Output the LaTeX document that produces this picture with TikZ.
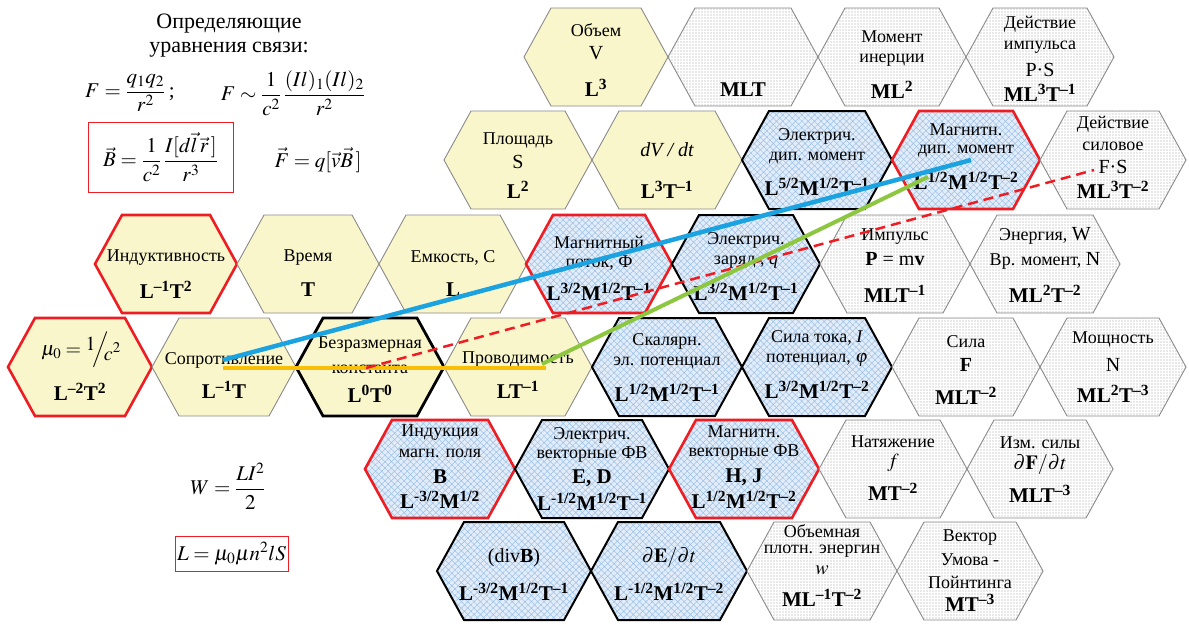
\documentclass[tikz,border=0pt]{standalone}
\usepackage{mathptmx}
\usepackage[no-math]{fontspec}
\setmainfont{Liberation Serif}
\usetikzlibrary{patterns.meta}
\definecolor{yfill}{HTML}{FAF6CB}
\definecolor{bfill}{HTML}{E3EDF9}
\definecolor{bline}{HTML}{9CC0E6}
\definecolor{gdot}{HTML}{A0A0A0}
\definecolor{hgray}{HTML}{8A8A8A}
\definecolor{hred}{HTML}{EE1D23}
\definecolor{lblue}{HTML}{1AA3E0}
\definecolor{lgreen}{HTML}{8DC63F}
\definecolor{lgold}{HTML}{F9BE08}
\newcommand\ssp[1]{\textsuperscript{#1}}
% style, name, x, y, half width
\newcommand\hx[5]{\draw[#1] ({#3-#5},{#4}) -- ({#3-#5+27},{#4-49}) -- ({#3+#5-27},{#4-49}) -- ({#3+#5},{#4}) -- ({#3+#5-27},{#4+49}) -- ({#3-#5+27},{#4+49}) -- cycle; \coordinate (#2) at (#3,#4);}
\tikzset{
 yh/.style={fill=yfill, draw=hgray, line width=0.9pt},
 yhr/.style={fill=yfill, draw=hred, line width=2.6pt},
 yhk/.style={fill=yfill, draw=black, line width=2.8pt},
 bh/.style={preaction={fill=bfill}, pattern={Hatch[angle=45,distance=4.5pt,line width=0.5pt]}, pattern color=bline, draw=black, line width=2pt},
 bhr/.style={bh, draw=hred, line width=2.6pt},
 gh/.style={preaction={fill=white}, pattern={Dots[distance=3pt,radius=0.6pt]}, pattern color=gdot, draw=hgray, line width=0.9pt},
 lab/.style={font=\fontsize{18}{21}\selectfont, inner sep=0pt},
 labb/.style={font=\fontsize{20}{23}\selectfont, inner sep=0pt},
 dm/.style={font=\fontsize{21}{24}\selectfont\bfseries, inner sep=0pt},
 eq/.style={font=\fontsize{21}{25}\selectfont, inner sep=0pt},
 head/.style={font=\fontsize{22}{26}\selectfont, inner sep=0pt},
 redbox/.style={draw=hred, line width=0.9pt},
}
\begin{document}
\begin{tikzpicture}[x=1pt,y=-1pt]
\useasboundingbox (0,0) rectangle (1189,624);
\fill[white] (0,0) rectangle (1189,624);
% ---------- row 1
\hx{yh}{vol}{596}{57}{72}
\hx{gh}{mlt}{743}{57}{75}
\hx{gh}{inert}{892}{57}{74}
\hx{gh}{actp}{1040}{57}{74}
% ---------- row 2
\hx{yh}{area}{518}{160}{74}
\hx{yh}{dvdt}{667}{160}{75}
\hx{bh}{edip}{817}{160}{75}
\hx{bhr}{mdip}{966}{160}{74}
\hx{gh}{actf}{1113}{160}{73}
% ---------- row 3
\hx{yhr}{ind}{166}{264}{71}
\hx{yh}{time}{308}{264}{71}
\hx{yh}{cap}{453}{264}{74}
\hx{bhr}{flux}{599}{264}{73}
\hx{bh}{charge}{746}{264}{74}
\hx{gh}{imp}{895}{264}{75}
\hx{gh}{en}{1045}{264}{75}
% ---------- row 4
\hx{yhr}{mu}{80}{367}{72}
\hx{yh}{res}{224}{367}{72}
\hx{yhk}{dless}{370}{367}{74}
\hx{yh}{cond}{518}{367}{74}
\hx{bh}{spot}{667}{367}{75}
\hx{bh}{curr}{817}{367}{75}
\hx{gh}{force}{966}{367}{74}
\hx{gh}{power}{1113}{367}{73}
% ---------- row 5
\hx{bhr}{bind}{440}{469}{75}
\hx{bh}{evec}{592}{469}{77}
\hx{bhr}{mvec}{744}{469}{75}
\hx{gh}{tens}{893}{469}{74}
\hx{gh}{dfdt}{1040}{469}{73}
% ---------- row 6
\hx{bh}{divb}{514}{571}{77}
\hx{bh}{dedt}{669}{571}{78}
\hx{gh}{wden}{822}{571}{75}
\hx{gh}{poynt}{970}{571}{73}

% ---------- texts row 1
\node[lab] (vol1) at (596,30) {Объем};
\node[labb] (vol2) at (596,53) {V};
\node[dm] (vol3) at (596,88) {L\ssp{3}};
\node[dm] (mlt1) at (743,90) {MLT};
\node[lab] (in1) at (892,37) {Момент};
\node[lab] (in2) at (892,60) {инерции};
\node[dm] (in3) at (892,90) {ML\ssp{2}};
\node[lab] (ap1) at (1040,24) {Действие};
\node[lab] (ap2) at (1040,47) {импульса};
\node[labb] (ap3) at (1040,70) {P·S};
\node[dm] (ap4) at (1040,93) {ML\ssp{3}T\ssp{–1}};
% ---------- texts row 2
\node[lab] (ar1) at (518,140) {Площадь};
\node[labb] (ar2) at (518,162) {S};
\node[dm] (ar3) at (518,190) {L\ssp{2}};
\node[labb] (dv1) at (667,150) {\itshape dV / dt};
\node[dm] (dv2) at (667,190) {L\ssp{3}T\ssp{–1}};
\node[lab] (ed1) at (817,136) {Электрич.};
\node[lab] (ed2) at (817,158) {дип. момент};
\node[dm] (ed3) at (817,187) {L\ssp{5/2}M\ssp{1/2}T\ssp{–1}};
\node[lab] (md1) at (966,130) {Магнитн.};
\node[lab] (md2) at (966,151) {дип. момент};
\node[dm] (md3) at (966,181) {L\ssp{1/2}M\ssp{1/2}T\ssp{–2}};
\node[lab] (af1) at (1113,124) {Действие};
\node[lab] (af2) at (1113,146) {силовое};
\node[labb] (af3) at (1113,167) {F·S};
\node[dm] (af4) at (1113,190) {ML\ssp{3}T\ssp{–2}};
% ---------- texts row 3
\node[lab] (id1) at (166,258) {Индуктивность};
\node[dm] (id2) at (166,290) {L\ssp{–1}T\ssp{2}};
\node[lab] (tm1) at (308,258) {Время};
\node[dm] (tm2) at (308,290) {T};
\node[lab] (cp1) at (453,258) {Емкость, С};
\node[dm] (cp2) at (453,290) {L};
\node[lab] (fl1) at (599,242) {Магнитный};
\node[lab] (fl2) at (599,263) {поток, Ф};
\node[dm] (fl3) at (599,292) {L\ssp{3/2}M\ssp{1/2}T\ssp{–1}};
\node[lab] (ch1) at (746,240) {Электрич.};
\node[lab] (ch2) at (746,262) {заряд , \textit{q}};
\node[dm] (ch3) at (746,292) {L\ssp{3/2}M\ssp{1/2}T\ssp{–1}};
\node[lab] (im1) at (895,237) {Импульс};
\node[labb] (im2) at (895,259) {\textbf{P} = m\textbf{v}};
\node[dm] (im3) at (895,294) {MLT\ssp{–1}};
\node[lab] (en1) at (1045,236) {Энергия, {\fontsize{20}{20}\selectfont W}};
\node[lab] (en2) at (1045,261) {Вр. момент, {\fontsize{20}{20}\selectfont N}};
\node[dm] (en3) at (1045,294) {ML\ssp{2}T\ssp{–2}};
% ---------- texts row 4
\node[eq, font=\fontsize{20}{24}\selectfont] (mu1) at (81,350) {$\mu_0=\raisebox{5pt}{$1$}\kern-3pt\Big/\kern-5pt\raisebox{-5pt}{$c^2$}$};
\node[dm] (mu2) at (80,392) {L\ssp{–2}T\ssp{2}};
\node[lab] (rs1) at (224,360) {Сопротивление};
\node[dm] (rs2) at (224,390) {L\ssp{–1}T};
\node[lab] (dl1) at (370,345) {Безразмерная};
\node[lab] (dl2) at (370,369) {константа};
\node[dm] (dl3) at (370,394) {L\ssp{0}T\ssp{0}};
\node[lab] (cd1) at (518,360) {Проводимость};
\node[dm] (cd2) at (518,390) {LT\ssp{–1}};
\node[lab] (sp1) at (667,341) {Скалярн.};
\node[lab] (sp2) at (667,363) {эл. потенциал};
\node[dm] (sp3) at (667,393) {L\ssp{1/2}M\ssp{1/2}T\ssp{–1}};
\node[lab] (ct1) at (817,338) {Сила тока, \textit{I}};
\node[lab] (ct2) at (817,360) {потенциал, $\varphi$};
\node[dm] (ct3) at (817,390) {L\ssp{3/2}M\ssp{1/2}T\ssp{–2}};
\node[lab] (fo1) at (966,342) {Сила};
\node[labb] (fo2) at (966,365) {\bfseries F};
\node[dm] (fo3) at (966,396) {MLT\ssp{–2}};
\node[lab] (pw1) at (1113,339) {Мощность};
\node[labb] (pw2) at (1113,365) {N};
\node[dm] (pw3) at (1113,394) {ML\ssp{2}T\ssp{–3}};
% ---------- texts row 5
\node[lab] (bi1) at (440,433) {Индукция};
\node[lab] (bi2) at (440,453) {магн. поля};
\node[dm] (bi3) at (440,477) {B};
\node[dm] (bi4) at (440,500) {L\ssp{-3/2}M\ssp{1/2}};
\node[lab] (ev1) at (592,435) {Электрич.};
\node[lab] (ev2) at (592,455) {векторные ФВ};
\node[dm] (ev3) at (592,478) {E, D};
\node[dm] (ev4) at (592,502) {L\ssp{-1/2}M\ssp{1/2}T\ssp{–1}};
\node[lab] (mv1) at (744,432) {Магнитн.};
\node[lab] (mv2) at (744,453) {векторные ФВ};
\node[dm] (mv3) at (744,477) {H, J};
\node[dm] (mv4) at (744,500) {L\ssp{1/2}M\ssp{1/2}T\ssp{–2}};
\node[lab] (te1) at (893,442) {Натяжение};
\node[labb] (te2) at (893,463) {$f$};
\node[dm] (te3) at (893,492) {MT\ssp{–2}};
\node[lab] (df1) at (1040,443) {Изм. силы};
\node[labb] (df2) at (1040,465) {$\partial\mathbf{F}/\partial t$};
\node[dm] (df3) at (1040,494) {MLT\ssp{–3}};
% ---------- texts row 6
\node[labb] (db1) at (514,558) {(div\textbf{B})};
\node[dm] (db2) at (514,592) {L\ssp{-3/2}M\ssp{1/2}T\ssp{–1}};
\node[labb] (de1) at (669,558) {$\partial\mathbf{E}/\partial t$};
\node[dm] (de2) at (669,592) {L\ssp{-1/2}M\ssp{1/2}T\ssp{–2}};
\node[lab] (wd1) at (822,531) {Объемная};
\node[lab] (wd2) at (822,551) {плотн. энергин};
\node[labb] (wd3) at (822,570) {$w$};
\node[dm] (wd4) at (822,598) {ML\ssp{–1}T\ssp{–2}};
\node[lab] (pv1) at (970,538) {Вектор};
\node[lab] (pv2) at (970,560) {Умова -};
\node[lab] (pv3) at (970,582) {Пойнтинга};
\node[dm] (pv4) at (970,603) {MT\ssp{–3}};

% ---------- formulas on the left
\node[head] (hd1) at (229,24) {Определяющие};
\node[head] (hd2) at (229,50) {уравнения связи:};
\node[eq] (fq) at (130,93) {$\displaystyle F=\frac{q_1q_2}{r^2}$\,;};
\node[eq] (fi) at (293,93) {$\displaystyle F\sim\frac{1}{c^2}\,\frac{(Il)_1(Il)_2}{r^2}$};
\node[eq, redbox, minimum width=145pt, minimum height=70pt] (fb) at (160.5,157) {$\displaystyle\vec B=\frac{1}{c^2}\,\frac{I[d\vec l\,\vec r\,]}{r^3}$};
\node[eq] (ff) at (318,160) {$\vec F=q[\vec v\vec B\,]$};
\node[eq] (fw) at (228,486) {$\displaystyle W=\frac{LI^2}{2}$};
\node[eq, redbox, minimum width=113pt, minimum height=35pt] (fl) at (231.5,553.5) {$L=\mu_0\mu n^2 lS$};

% ---------- connectors
\coordinate (oA) at (223,368); \coordinate (oB) at (546,368);
\coordinate (rA) at (366,368); \coordinate (rB) at (1094,170);
\coordinate (gA) at (542,364); \coordinate (gB) at (928,177);
\coordinate (bA) at (223,360); \coordinate (bB) at (971,160);
\draw[lgold, line width=4.5pt] (oA) -- (oB);
\draw[hred, line width=2.5pt, dash pattern=on 10pt off 6pt] (rA) -- (rB);
\draw[lgreen, line width=4pt] (gA) -- (gB);
\draw[lblue, line width=4.5pt] (bA) -- (bB);
\end{tikzpicture}
\end{document}
